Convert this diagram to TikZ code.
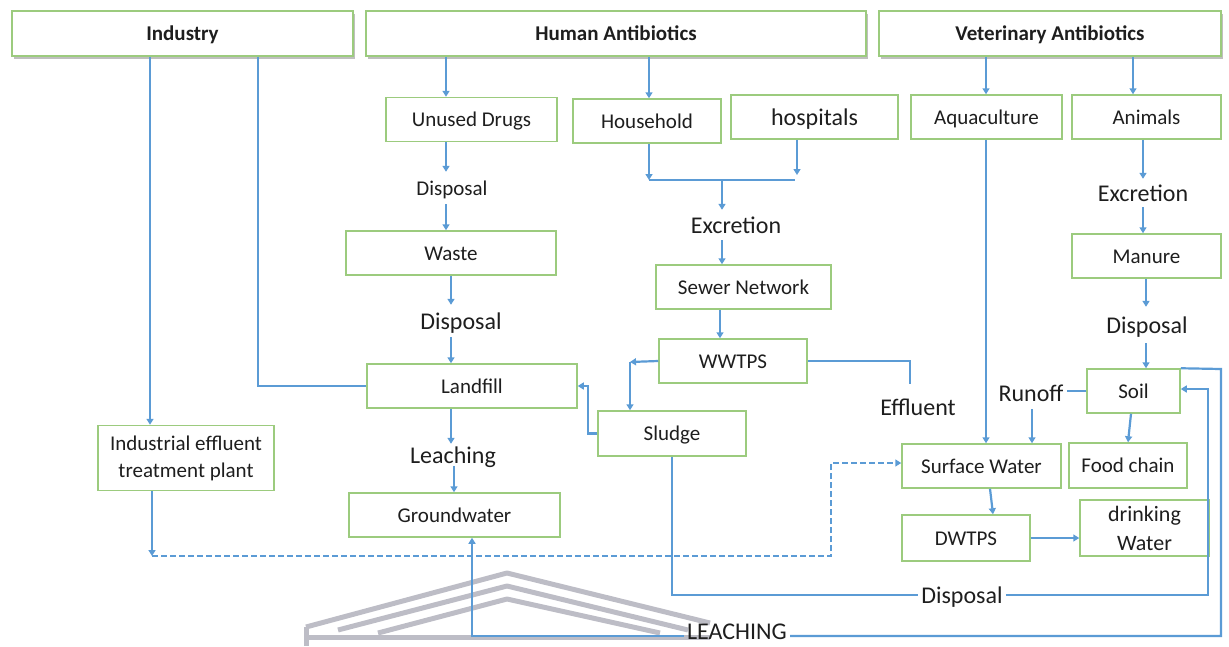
\documentclass[tikz,border=0pt]{standalone}
\usepackage{fontspec}
\setmainfont{Carlito}
\usetikzlibrary{arrows.meta,shadows,calc}
\definecolor{bgreen}{HTML}{9CCB7E}
\definecolor{lblue}{HTML}{5B9BD5}
\definecolor{txt}{HTML}{1E1E1E}
\definecolor{wm}{HTML}{BDBDC6}
\tikzset{
  boxbase/.style={draw=bgreen, line width=1.5pt, fill=white, inner sep=2pt, align=center,
    font=\fontsize{21}{27}\selectfont, text=txt},
  box/.style={boxbase, text height=14pt, text depth=0pt},
  head/.style={box, line width=1.8pt, font=\fontsize{21}{25}\selectfont\bfseries,
    drop shadow={shadow xshift=2pt, shadow yshift=-2.5pt, fill=black, opacity=0.25}},
  lbl/.style={inner sep=3pt, minimum height=32pt, font=\fontsize{24}{28}\selectfont, text=txt,
    text height=16pt, text depth=0pt},
  ln/.style={draw=lblue, line width=2.2pt},
  arr/.style={ln, -{Triangle[width=7pt,length=6pt]}},
  wmark/.style={draw=wm, line width=5pt, line join=round},
}
\begin{document}
\begin{tikzpicture}[x=1pt,y=-1pt]
\useasboundingbox (0,0) rectangle (1229,646);
% watermark
\draw[wmark] (306,627) -- (507,573) -- (710,623);
\draw[wmark] (338,630) -- (507,586) -- (688,630);
\draw[wmark] (378,633) -- (507,599) -- (660,633);
\draw[wmark] (306,637) -- (710,637);
\draw[wmark] (306,627) -- (306,646);
% header boxes
\node[head, minimum width=341pt, minimum height=45pt] (ind) at (182.5,33.5) {Industry};
\node[head, minimum width=500pt, minimum height=45pt] (hum) at (616,33.5) {Human Antibiotics};
\node[head, minimum width=342pt, minimum height=45pt] (vet) at (1050,33.5) {Veterinary Antibiotics};
% boxes
\node[box, minimum width=171pt, minimum height=44pt] (unused) at (471.5,119.5) {Unused Drugs};
\node[box, minimum width=148pt, minimum height=44pt] (house) at (647,121) {Household};
\node[box, minimum width=167pt, minimum height=44pt, font=\fontsize{24}{28}\selectfont, text height=17pt] (hosp) at (814.5,117) {hospitals};
\node[box, minimum width=151pt, minimum height=44pt] (aqua) at (986.5,117) {Aquaculture};
\node[box, minimum width=149pt, minimum height=44pt] (animals) at (1146.5,117) {Animals};
\node[box, minimum width=210pt, minimum height=44pt] (waste) at (451,253) {Waste};
\node[box, minimum width=175pt, minimum height=44pt] (sewer) at (743.5,287) {Sewer Network};
\node[box, minimum width=149pt, minimum height=44pt] (manure) at (1146.5,256) {Manure};
\node[box, minimum width=148pt, minimum height=44pt] (wwtps) at (733,361) {WWTPS};
\node[box, minimum width=210pt, minimum height=44pt] (landfill) at (472,386) {Landfill};
\node[box, minimum width=93pt, minimum height=44pt] (soil) at (1133.5,391) {Soil};
\node[box, minimum width=148pt, minimum height=45pt] (sludge) at (672,433.5) {Sludge};
\node[boxbase, minimum width=176pt, minimum height=65pt] (iet) at (186,458) {Industrial effluent\\treatment plant};
\node[box, minimum width=159pt, minimum height=44pt] (surf) at (981.5,466) {Surface Water};
\node[box, minimum width=118pt, minimum height=45pt] (food) at (1128,465.5) {Food chain};
\node[box, minimum width=211pt, minimum height=44pt] (ground) at (454.5,515) {Groundwater};
\node[box, minimum width=128pt, minimum height=46pt] (dwtps) at (966,538) {DWTPS};
\node[boxbase, minimum width=129pt, minimum height=56pt, font=\fontsize{22}{29}\selectfont] (drink) at (1144.5,528) {drinking\\Water};
% labels
\node[lbl, font=\fontsize{21}{25}\selectfont, text height=14pt] (dis1) at (452,188) {Disposal};
\node[lbl] (dis2) at (461,321) {Disposal};
\node[lbl, minimum height=30pt] (exc1) at (736,225) {Excretion};
\node[lbl, minimum height=28pt] (exc2) at (1143,193) {Excretion};
\node[lbl, minimum height=36pt] (dis3) at (1147,325) {Disposal};
\node[lbl, minimum height=46pt] (eff) at (918,407) {Effluent};
\node[lbl] (run) at (1031,393) {Runoff};
\node[lbl, minimum height=22pt] (leach) at (453,455) {Leaching};
\node[lbl] (dis4) at (962,595) {Disposal};
\node[lbl] (leach2) at (737,631) {LEACHING};
% Industry
\draw[arr] (ind.south -| 150,0) -- (iet.north -| 150,0);
\draw[ln] (ind.south -| 258,0) |- (landfill.west);
% Human antibiotics
\draw[arr] (hum.south -| 446,0) -- (unused.north -| 446,0);
\draw[arr] (hum.south -| 649,0) -- (house.north -| 649,0);
\draw[arr] (unused.south -| 446,0) -- (dis1.north -| 446,0);
\draw[arr] (dis1.south -| 446,0) -- (waste.north -| 446,0);
\draw[arr] (waste.south -| 451,0) -- (dis2.north -| 451,0);
\draw[arr] (dis2.south -| 451,0) -- (landfill.north -| 451,0);
\draw[arr] (landfill.south -| 451,0) -- (leach.north -| 451,0);
\draw[arr] (leach.south -| 454,0) -- (ground.north -| 454,0);
\coordinate (jL) at (649,180);
\coordinate (jR) at (795,180);
\coordinate (jH) at (797,175);
\coordinate (jM) at (722,180);
\draw[arr] (house.south -| jL) -- (jL);
\draw[arr] (hosp.south -| jH) -- (jH);
\draw[ln] (jL) -- (jR);
\draw[arr] (jM) -- (exc1.north -| jM);
\draw[arr] (exc1.south -| jM) -- (sewer.north -| jM);
\draw[arr] (sewer.south -| 720,0) -- (wwtps.north -| 720,0);
\coordinate (wl) at (630,362);
\draw[arr] (wwtps.west) -- (wl);
\draw[arr] (wl) -- (sludge.north -| wl);
\draw[arr] (sludge.west) -| (landfill.east -| 588,0) -- (landfill.east);
\draw[ln] (wwtps.east) -| (eff.north -| 910,0);
% Veterinary
\draw[arr] (vet.south -| 986,0) -- (aqua.north -| 986,0);
\draw[arr] (vet.south -| 1133,0) -- (animals.north -| 1133,0);
\draw[arr] (aqua.south -| 986,0) -- (surf.north -| 986,0);
\draw[arr] (animals.south -| 1143,0) -- (exc2.north -| 1143,0);
\draw[arr] (exc2.south -| 1143,0) -- (manure.north -| 1143,0);
\draw[arr] (manure.south -| 1146,0) -- (dis3.north -| 1146,0);
\draw[arr] (dis3.south -| 1146,0) -- (soil.north -| 1146,0);
\draw[ln] (soil.west) -- (run.east |- soil.west);
\draw[arr] (run.south -| 1032,0) -- (surf.north -| 1032,0);
\draw[arr] (soil.south -| 1131,0) -- (food.north -| 1128,0);
\draw[arr] (surf.south -| 990,0) -- (dwtps.north -| 993,0);
\draw[arr] (dwtps.east) -- (drink.west |- dwtps.east);
% loops
\coordinate (o1) at (1221,369);
\coordinate (o2) at (1221,636);
\draw[ln] (soil.north east) -- (o1) -- (o2) -- (leach2.east |- o2);
\draw[arr] (leach2.west |- o2) -| (ground.south -| 472,0);
\coordinate (i1) at (1208,595);
\coordinate (i2) at (1208,389);
\draw[ln] (sludge.south) |- (dis4.west);
\draw[arr] (dis4.east) -- (i1) -- (i2) -- (soil.east |- i2);
% dashed
\coordinate (d1) at (152,556);
\coordinate (d2) at (831,556);
\coordinate (d3) at (831,463);
\draw[arr] (iet.south -| d1) -- (d1);
\draw[arr, dash pattern=on 6pt off 3pt] (d1) -- (d2) -- (d3) -- (surf.west |- d3);
\end{tikzpicture}
\end{document}
